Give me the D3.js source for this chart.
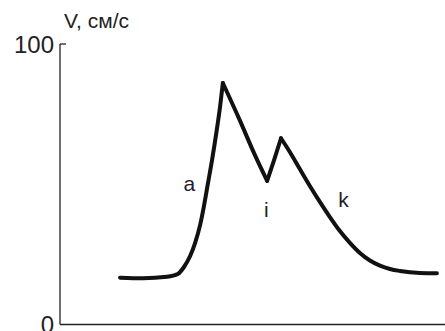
<!DOCTYPE html>
<html><head><meta charset="utf-8">
<script src="https://cdn.jsdelivr.net/npm/d3@7"></script>
<style>body{margin:0;background:#fff}svg{display:block}</style>
</head><body>
<script>
// time (arbitrary units) and velocity V (cm/s)
const rise = [[15.6,16.7],[21.6,16.5],[27.8,17.0],[30.6,18.0],[32.2,20.5],[33.8,24.4],[35.1,29.1],[36.4,35.5],[37.4,42.3],[38.4,50.1],[39.5,58.7],[40.8,70.1],[41.6,77.9],[42.3,86.1]];
const fall1 = [[42.3,86.1],[46.8,72.5],[50.4,61.1],[53.8,51.2]];
const rise2 = [[53.8,51.2],[55.6,58.6],[57.4,66.4]];
const fall2 = [[57.4,66.4],[59.7,61.5],[62.3,55.4],[64.9,49.4],[67.5,43.7],[70.1,38.3],[72.7,33.3],[75.3,29.1],[77.9,25.5],[80.5,22.8],[83.1,21.0],[85.7,19.8],[88.3,19.1],[93.5,18.4],[97.9,18.3]];
const segments = [rise, fall1, rise2, fall2];
const yTicks = [0, 100];
const yTitle = "V, см/с";
const labels = [{t:"a", x:32.1, v:47.5},{t:"i", x:53.0, v:38.3},{t:"k", x:72.3, v:42.0}];

const W = 445, H = 331;
const svg = d3.select("body").append("svg").attr("width", W).attr("height", H);
const x = d3.scaleLinear().domain([0, 100]).range([60, 445]);
const y = d3.scaleLinear().domain([0, 100]).range([324.5, 44]);
const font = "'Liberation Sans', Arial, sans-serif";

// axes
svg.append("line").attr("x1", x(0)).attr("x2", x(100)).attr("y1", y(0)).attr("y2", y(0))
  .attr("stroke", "#222").attr("stroke-width", 1.3);
svg.append("line").attr("x1", x(0)).attr("x2", x(0)).attr("y1", y(0)).attr("y2", y(100))
  .attr("stroke", "#222").attr("stroke-width", 1.3);
svg.append("line").attr("x1", x(0)).attr("x2", x(0) + 6).attr("y1", y(100)).attr("y2", y(100))
  .attr("stroke", "#222").attr("stroke-width", 1.3);
svg.selectAll(".yt").data(yTicks).enter().append("text")
  .attr("x", x(0) - 6).attr("y", d => y(d)).attr("dy", "0.36em")
  .attr("text-anchor", "end").attr("font-family", font).attr("font-size", 24).attr("fill", "#222")
  .text(d => d);
svg.append("text").attr("x", 64).attr("y", 28).attr("font-family", font).attr("font-size", 21)
  .attr("fill", "#222").text(yTitle);

// curve
const line = d3.line().x(d => x(d[0])).y(d => y(d[1])).curve(d3.curveMonotoneX);
svg.selectAll(".seg").data(segments).enter().append("path")
  .attr("d", line).attr("fill", "none").attr("stroke", "#111").attr("stroke-width", 4)
  .attr("stroke-linecap", "round").attr("stroke-linejoin", "round");

svg.selectAll(".lb").data(labels).enter().append("text")
  .attr("x", d => x(d.x)).attr("y", d => y(d.v)).attr("font-family", font).attr("font-size", 21)
  .attr("fill", "#222").text(d => d.t);
</script>
</body></html>
